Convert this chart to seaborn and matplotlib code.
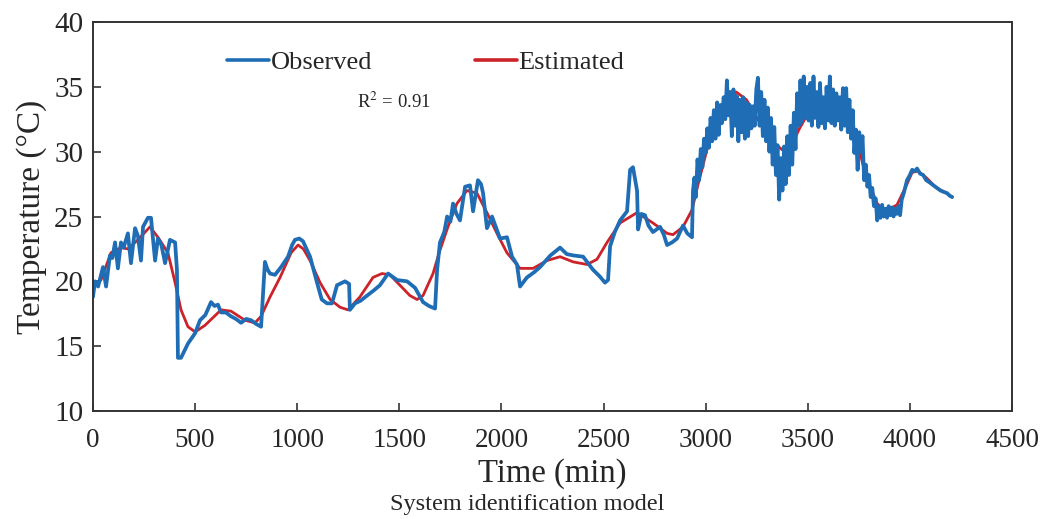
import pandas as pd
import matplotlib
matplotlib.use("Agg")
import matplotlib.pyplot as plt
import seaborn as sns

# ----------------------------------------------------------
# Data
# ----------------------------------------------------------

obs_time = [
    0, 10, 25, 49, 64, 83, 95, 108, 122, 137, 150, 171, 186, 206, 220, 235,
    245, 269, 284, 304, 318, 335, 353, 377, 402, 411, 416, 431, 465, 500, 524,
    550, 578, 595, 612, 627, 650, 676, 700, 725, 750, 774, 800, 823, 842, 855,
    867, 891, 921, 955, 975, 989, 1010, 1028, 1063, 1097, 1120, 1146, 1170,
    1195, 1234, 1254, 1258, 1283, 1310, 1342, 1375, 1405, 1445, 1489, 1538,
    1577, 1616, 1645, 1675, 1685, 1699, 1720, 1734, 1750, 1763, 1780, 1797,
    1822, 1846, 1861, 1885, 1900, 1910, 1929, 1954, 1993, 2027, 2052, 2076,
    2091, 2125, 2160, 2189, 2240, 2287, 2320, 2351, 2400, 2448, 2480, 2507,
    2522, 2532, 2555, 2581, 2615, 2630, 2644, 2664, 2669, 2685, 2703, 2720,
    2742, 2777, 2795, 2811, 2835, 2860, 2889, 2910, 2933, 2938,
    2945, 2952, 2960, 2968, 2976, 2984, 2992, 3000, 3008, 3016, 3024, 3032,
    3040, 3048, 3056, 3064, 3072, 3080, 3088, 3096, 3104, 3112, 3120, 3128,
    3136, 3144, 3152, 3160, 3168, 3176, 3184, 3192, 3200, 3208, 3216, 3224,
    3232, 3240, 3248, 3256, 3264, 3272, 3280, 3288, 3296, 3304, 3312, 3320,
    3328, 3336, 3344, 3352, 3360, 3368, 3376, 3384, 3392, 3400, 3408, 3416,
    3424, 3432, 3440, 3448, 3456, 3464, 3472, 3480, 3488, 3496, 3504, 3512,
    3520, 3528, 3536, 3544, 3552, 3560, 3568, 3576, 3584, 3592, 3600, 3608,
    3616, 3624, 3632, 3640, 3648, 3656, 3664, 3672, 3680, 3688, 3696, 3704,
    3712, 3720, 3728, 3736, 3744, 3752, 3760, 3768, 3776, 3784, 3792, 3800,
    3808, 3816, 3824, 3832, 3840, 3848, 3856, 3864, 3872, 3880, 3888, 3896,
    3904, 3912, 3920, 3928, 3936, 3944, 3952, 3960, 3970, 3986, 4000, 4011,
    4025, 4035, 4050, 4065, 4080, 4099, 4115, 4133, 4150, 4165, 4182, 4195,
    4207,
]
obs_temp = [
    18.8, 20.0, 19.6, 21.1, 19.6, 22.0, 21.8, 23.0, 21.0, 23.0, 22.6, 23.7,
    21.4, 24.1, 23.5, 21.6, 24.2, 24.9, 24.9, 21.6, 23.3, 22.8, 21.4, 23.2,
    23.0, 20.9, 14.1, 14.1, 15.2, 16.0, 17.0, 17.4, 18.4, 18.1, 18.2, 17.6,
    17.6, 17.3, 17.1, 16.8, 17.1, 17.0, 16.7, 16.5, 21.5, 20.9, 20.6, 20.5,
    21.1, 21.9, 22.8, 23.2, 23.3, 23.1, 21.9, 19.9, 18.6, 18.3, 18.3, 19.7,
    20.0, 19.8, 17.8, 18.3, 18.5, 18.9, 19.3, 19.7, 20.6, 20.1, 20.0, 19.5,
    18.4, 18.1, 17.9, 20.9, 23.0, 23.8, 25.0, 24.6, 26.0, 25.2, 24.7, 27.3,
    27.4, 25.4, 27.8, 27.5, 26.8, 24.1, 25.0, 23.3, 23.4, 21.9, 21.3, 19.6,
    20.3, 20.7, 21.1, 22.0, 22.6, 22.1, 22.0, 21.9, 20.9, 20.4, 19.9, 20.1,
    22.7, 23.8, 24.7, 25.4, 28.6, 28.8, 27.0, 24.0, 25.2, 25.1, 24.3, 23.8,
    24.2, 23.6, 22.8, 23.0, 23.3, 24.3, 23.7, 23.4, 27.0,
    28.0, 26.5, 29.4, 27.8, 30.2, 28.8, 31.0, 29.9, 31.8, 30.3, 32.6, 30.8,
    33.2, 31.0, 33.8, 31.3, 33.6, 32.2, 34.2, 32.5, 35.5, 32.8, 34.6, 31.2,
    34.8, 32.0, 34.3, 30.8, 34.0, 31.5, 34.2, 31.0, 33.8, 31.2, 33.6, 31.8,
    33.5, 32.0, 34.8, 35.7, 32.0, 34.6, 31.2, 34.0, 30.8, 33.4, 30.0, 32.6,
    29.0, 31.9, 28.2, 30.5, 26.3, 29.5, 27.0, 30.4, 27.5, 31.2, 28.2, 32.0,
    29.0, 33.0, 30.2, 34.5, 32.0, 35.5, 32.3, 35.8, 32.6, 35.0, 32.4, 35.3,
    32.0, 35.8, 32.6, 34.6, 31.9, 35.3, 32.2, 34.2, 31.8, 35.0, 32.4, 35.8,
    32.2, 34.8, 32.0, 34.5, 32.4, 34.2, 31.7, 34.9, 32.0, 34.9, 31.5, 34.0,
    31.0, 33.2, 29.9, 31.7, 28.6, 31.5, 30.0, 31.2, 27.8, 29.0, 27.3, 28.2,
    26.5, 27.2, 25.8, 26.4, 24.7, 25.8, 24.9, 25.9, 25.0, 25.6, 24.9, 25.8,
    25.1, 25.7, 25.0, 25.6, 25.2, 25.8, 25.1, 26.3, 26.8, 27.8, 28.2, 28.6,
    28.5, 28.7, 28.3, 28.2, 27.8, 27.6, 27.4, 27.2, 27.0, 26.9, 26.8, 26.6,
    26.5,
]

est_time = [
    0, 39, 88, 137, 171, 220, 279, 318, 367, 402, 431, 465, 500, 548, 627,
    676, 744, 793, 823, 867, 916, 970, 1004, 1030, 1063, 1112, 1161, 1210,
    1249, 1307, 1371, 1415, 1454, 1503, 1552, 1587, 1616, 1665, 1699, 1738,
    1782, 1831, 1880, 1929, 1978, 2027, 2091, 2155, 2223, 2287, 2351, 2419,
    2468, 2517, 2581, 2664, 2742, 2811, 2840, 2889, 2933, 2963, 3012, 3061,
    3110, 3150, 3200, 3266, 3315, 3379, 3413, 3460, 3510, 3560, 3610, 3660,
    3710, 3741, 3770, 3800, 3840, 3880, 3937, 3980, 4011, 4040, 4080, 4130,
    4180, 4207,
]
est_temp = [
    19.6, 20.1, 22.2, 22.6, 22.5, 23.2, 24.2, 23.4, 22.2, 19.9, 17.8, 16.5,
    16.1, 16.6, 17.8, 17.7, 17.0, 16.8, 17.3, 18.8, 20.3, 22.2, 22.8, 22.5,
    21.6, 19.9, 18.6, 18.0, 17.8, 18.8, 20.3, 20.6, 20.5, 19.7, 18.9, 18.6,
    18.9, 20.6, 22.4, 24.2, 26.0, 27.0, 26.8, 25.3, 23.7, 22.2, 21.0, 21.0,
    21.6, 21.9, 21.5, 21.3, 21.7, 23.0, 24.5, 25.3, 24.5, 23.7, 23.6, 24.2,
    25.5, 27.5, 30.5, 32.8, 34.2, 34.6, 34.0, 32.2, 30.9, 30.1, 30.3, 31.8,
    33.2, 33.8, 33.7, 33.0, 32.0, 30.9, 29.0, 27.5, 26.0, 25.4, 25.9, 27.3,
    28.4, 28.5, 28.0, 27.2, 26.8, 26.5,
]

x_ticks = [0, 500, 1000, 1500, 2000, 2500, 3000, 3500, 4000, 4500]
y_ticks = [10, 15, 20, 25, 30, 35, 40]

obs = pd.DataFrame({"Time": obs_time, "Temp": obs_temp})
est = pd.DataFrame({"Time": est_time, "Temp": est_temp})

# ----------------------------------------------------------
# Style
# ----------------------------------------------------------

sns.set_theme(style="white")
plt.rcParams["font.family"] = ["Liberation Serif", "DejaVu Serif"]
plt.rcParams["mathtext.fontset"] = "stix"

blue = "#1f6db4"
red = "#cc2229"

fig = plt.figure(figsize=(10.46, 5.19), dpi=100)
ax = fig.add_axes([0.0889, 0.2081, 0.8786, 0.7495])

sns.lineplot(data=obs, x="Time", y="Temp", ax=ax, color=blue,
             linewidth=2.7, estimator=None, sort=False, label="Observed",
             zorder=2)
sns.lineplot(data=est, x="Time", y="Temp", ax=ax, color=red,
             linewidth=2.0, estimator=None, sort=False, label="Estimated",
             zorder=1)

ax.set_xlim(0, 4500)
ax.set_ylim(10, 40)
ax.set_xticks(x_ticks)
ax.set_yticks(y_ticks)
ax.tick_params(axis="both", direction="in", length=6, width=1.2,
               color="#333333", top=False, right=False,
               bottom=True, left=True)
ax.tick_params(axis="x", pad=12, labelsize=19.5)
ax.tick_params(axis="y", pad=7, labelsize=21)

for s in ax.spines.values():
    s.set_color("#333333")
    s.set_linewidth(1.4)

ax.set_xlabel("Time (min)", fontsize=23.5, labelpad=4)
ax.set_ylabel("Temperature (\u00b0C)", fontsize=24, labelpad=5)

leg = ax.legend(loc="center", bbox_to_anchor=(0.362, 0.897), ncol=2,
                frameon=False, fontsize=19, handlelength=1.6,
                handletextpad=0.05, columnspacing=3.9)
for line in leg.get_lines():
    line.set_linewidth(2.6)

ax.text(0.328, 0.795, "R$^{2}$ = 0.91", transform=ax.transAxes,
        fontsize=13.5, ha="center", va="center")

fig.text(0.504, 0.027, "System identification model", fontsize=17.5,
         ha="center", va="center")

fig.savefig("out.png", dpi=100)
